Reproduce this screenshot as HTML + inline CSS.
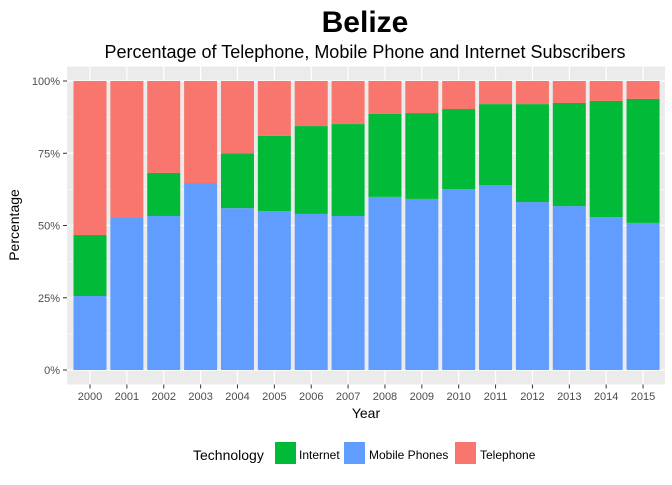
<!DOCTYPE html>
<html><head><meta charset="utf-8"><style>
body{margin:0;background:#fff;font-family:"Liberation Sans",Arial,sans-serif}
</style></head><body>
<svg id="c" width="672" height="480" xmlns="http://www.w3.org/2000/svg" font-family="Liberation Sans, Arial, sans-serif">
<text x="365" y="32" text-anchor="middle" font-size="30" font-weight="bold" fill="#000">Belize</text>
<text x="365" y="58" text-anchor="middle" font-size="18" fill="#000">Percentage of Telephone, Mobile Phone and Internet Subscribers</text>
<rect x="67" y="66.5" width="598" height="318" fill="#EBEBEB"/>
<g id="grid"></g><g id="bars"></g><g id="axes"></g>
<text x="366" y="418" text-anchor="middle" font-size="14" fill="#000">Year</text>
<text transform="translate(19,225) rotate(-90)" text-anchor="middle" font-size="14" fill="#000">Percentage</text>
<g>
<text x="193" y="460" font-size="14" fill="#000">Technology</text>
<g><rect x="275" y="442" width="21" height="22" fill="#00BA38"/><text x="299" y="459" font-size="12" fill="#000">Internet</text></g>
<g><rect x="344" y="442" width="21" height="22" fill="#619CFF"/><text x="369" y="459" font-size="12" fill="#000">Mobile Phones</text></g>
<g><rect x="455" y="442" width="21" height="22" fill="#F8766D"/><text x="480" y="459" font-size="12" fill="#000">Telephone</text></g>
</g>
</svg>
<script>
const years=["2000","2001","2002","2003","2004","2005","2006","2007","2008","2009","2010","2011","2012","2013","2014","2015"];
const mobile=[25.6,52.6,53.3,64.7,56,55,54,53.3,59.9,59.2,62.6,64,58.1,56.7,52.9,50.9];
const internet=[21.1,0,14.9,0,19,26,30.4,31.8,28.7,29.7,27.7,28,33.9,35.7,40.2,42.9];
const telephone=[53.3,47.4,31.8,35.3,25,19,15.6,14.9,11.4,11.1,9.7,8,8,7.6,6.9,6.2];
const yTicks=[0,25,50,75,100];
const NS="http://www.w3.org/2000/svg";
const y0=370,yH=289,x0=90,step=36.87,bw=33;
const Y=v=>y0-v/100*yH, X=i=>x0+i*step;
function mk(p,t,a){const e=document.createElementNS(NS,t);for(const k in a)e.setAttribute(k,a[k]);p.appendChild(e);return e;}
const g=document.getElementById('grid'),b=document.getElementById('bars'),ax=document.getElementById('axes');
for(let i=0;i<yTicks.length-1;i++){const l=mk(g,'line',{x1:67,x2:665,y1:Y((yTicks[i]+yTicks[i+1])/2),y2:Y((yTicks[i]+yTicks[i+1])/2),stroke:'#fff','stroke-width':0.6});

}
yTicks.forEach(v=>{const l=mk(g,'line',{x1:67,x2:665,y1:Y(v),y2:Y(v),stroke:'#fff','stroke-width':1.2});


const t=mk(ax,'text',{x:60,y:Y(v)+4,'text-anchor':'end','font-size':11,fill:'#4D4D4D'});t.textContent=v+'%';


mk(ax,'line',{x1:63,x2:67,y1:Y(v),y2:Y(v),stroke:'#333'});});
years.forEach((yr,i)=>{const l=mk(g,'line',{x1:X(i),x2:X(i),y1:66.5,y2:384.5,stroke:'#fff','stroke-width':1.2});


const segs=[[mobile[i],'#619CFF','mobile'],[internet[i],'#00BA38','internet'],[telephone[i],'#F8766D','telephone']];
const tot=mobile[i]+internet[i]+telephone[i];let acc=0;
segs.forEach(s=>{const v=s[0]/tot*100;if(v>0){const r=mk(b,'rect',{x:X(i)-bw/2,y:Y(acc+v),width:bw,height:Y(acc)-Y(acc+v),fill:s[1]});

}acc+=v;});
mk(ax,'line',{x1:X(i),x2:X(i),y1:384.5,y2:388.5,stroke:'#333'});
const t=mk(ax,'text',{x:X(i),y:400,'text-anchor':'middle','font-size':11,fill:'#4D4D4D'});t.textContent=yr;

});
</script>
</body></html>
